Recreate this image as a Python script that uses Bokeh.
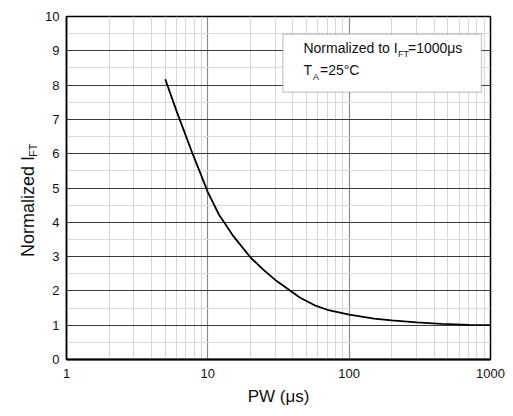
from bokeh.plotting import figure
from bokeh.layouts import row
from bokeh.models import Label, BoxAnnotation, FixedTicker, Range1d
from bokeh.core.properties import value
from bokeh.embed import file_html
from bokeh.resources import INLINE
import math

# ---- data ----
pw_us = [5, 6, 7.8, 10, 12, 15, 20, 25, 30, 45, 57, 70, 100, 150, 200, 300, 450, 700, 1000]
norm_ift = [8.17, 7.25, 6.0, 4.88, 4.22, 3.62, 2.98, 2.6, 2.32, 1.8, 1.58, 1.45, 1.31,
            1.19, 1.14, 1.08, 1.04, 1.01, 1.0]
x_ticks = [1, 10, 100, 1000]
x_tick_labels = ["1", "10", "100", "1000"]
y_ticks = [0, 1, 2, 3, 4, 5, 6, 7, 8, 9, 10]
y_tick_labels = ["0", "1", "2", "3", "4", "5", "6", "7", "8", "9", "10"]
x_minor = [m * 10 ** d for d in range(3) for m in range(2, 10)]
y_minor = [v + 0.5 for v in range(10)]
x_title = "PW (\u03bcs)"
y_title = "Normalized I"
y_title_sub = "FT"

FONT = "Liberation Sans"
TXT = "#111111"
H = 408
LW = 42  # width of the strip that carries the y-axis title

# ---- main chart ----
p = figure(width=505 - LW, height=H, x_axis_type="log", output_backend="svg",
           toolbar_location=None, x_range=Range1d(1, 1000), y_range=Range1d(0, 10),
           min_border_left=64 - LW, min_border_right=15, min_border_top=16,
           min_border_bottom=45)
p.background_fill_color = "white"
p.border_fill_color = "white"
p.outline_line_color = "black"
p.outline_line_width = 1.5

p.xaxis.ticker = FixedTicker(ticks=x_ticks, minor_ticks=x_minor)
p.yaxis.ticker = FixedTicker(ticks=y_ticks, minor_ticks=y_minor)
p.xaxis.major_label_overrides = {t: l for t, l in zip(x_ticks, x_tick_labels)}
p.yaxis.major_label_overrides = {t: l for t, l in zip(y_ticks, y_tick_labels)}

for ax in (p.xaxis[0], p.yaxis[0]):
    ax.major_tick_out = 0
    ax.major_tick_in = 0
    ax.minor_tick_out = 0
    ax.minor_tick_in = 0
    ax.major_label_text_font = FONT
    ax.major_label_text_font_size = "13px"
    ax.major_label_text_color = TXT
    ax.axis_line_color = "black"
p.xaxis.axis_line_width = 2
p.yaxis.axis_line_width = 1.5
p.xaxis.major_label_standoff = 9
p.yaxis.major_label_standoff = 7

p.xaxis.axis_label = x_title
p.xaxis.axis_label_text_font = FONT
p.xaxis.axis_label_text_font_size = "17px"
p.xaxis.axis_label_text_font_style = "normal"
p.xaxis.axis_label_text_color = TXT
p.xaxis.axis_label_standoff = 6

p.xgrid.grid_line_color = "#8a8a8a"
p.xgrid.grid_line_width = 1.2
p.xgrid.minor_grid_line_color = "#d6d6d6"
p.xgrid.minor_grid_line_width = 1
p.ygrid.grid_line_color = "#3c3c3c"
p.ygrid.grid_line_width = 1
p.ygrid.minor_grid_line_color = "#dadada"
p.ygrid.minor_grid_line_width = 1

p.line(pw_us, norm_ift, line_color="black", line_width=1.8)

# note box
box = BoxAnnotation(left=33.9, right=864, top=9.48, bottom=7.79,
                    fill_color="white", fill_alpha=1.0,
                    line_color="#6a6a6a", line_width=1.5)
p.add_layout(box)

ax0 = 47.5
p.add_layout(Label(x=ax0, y=8.86, text="Normalized to I", text_font=FONT,
                   text_font_size="14px", text_color=TXT))
p.add_layout(Label(x=ax0, y=8.76, x_offset=94.5, text="FT", text_font=FONT,
                   text_font_size="9px", text_color=TXT))
p.add_layout(Label(x=ax0, y=8.86, x_offset=104.5, text="=1000\u03bcs", text_font=FONT,
                   text_font_size="14px", text_color=TXT))
p.add_layout(Label(x=ax0, y=8.21, text="T", text_font=FONT,
                   text_font_size="14px", text_color=TXT))
p.add_layout(Label(x=ax0, y=8.10, x_offset=9.5, text="A", text_font=FONT,
                   text_font_size="9px", text_color=TXT))
p.add_layout(Label(x=ax0, y=8.21, x_offset=16.5, text="=25\u00b0C", text_font=FONT,
                   text_font_size="14px", text_color=TXT))

# ---- strip with the rotated y-axis title (pixel coordinates, y up) ----
t = figure(width=LW, height=H, x_range=Range1d(0, LW), y_range=Range1d(0, H),
           output_backend="svg", toolbar_location=None,
           min_border_left=0, min_border_right=0, min_border_top=0, min_border_bottom=0)
t.axis.visible = False
t.grid.visible = False
t.outline_line_color = None
t.background_fill_color = "white"
t.border_fill_color = "white"
t.text(x=[27], y=[H - 226], text=[y_title], angle=math.pi / 2,
       text_font=value(FONT), text_font_size="18px", text_color=TXT,
       text_align="center", text_baseline="middle")
t.text(x=[32], y=[H - 159], text=[y_title_sub], angle=math.pi / 2,
       text_font=value(FONT), text_font_size="11px", text_color=TXT,
       text_align="center", text_baseline="middle")

layout = row(t, p, spacing=0)
open("out.html", "w").write(file_html(layout, INLINE))
